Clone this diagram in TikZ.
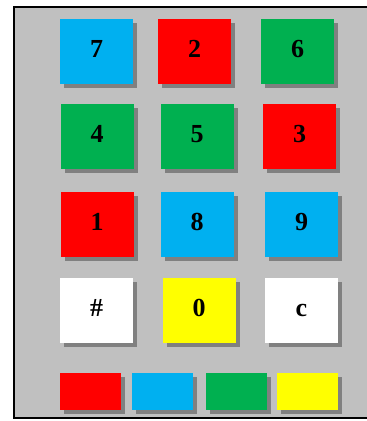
\documentclass[tikz,border=0pt]{standalone}
\usepackage{fontspec}
\setmainfont{Liberation Serif}
\usetikzlibrary{shadows}
\definecolor{panelgray}{HTML}{C0C0C0}
\definecolor{shadowgray}{HTML}{808080}
\definecolor{keyblue}{HTML}{00B0F0}
\definecolor{keyred}{HTML}{FF0000}
\definecolor{keygreen}{HTML}{00B050}
\definecolor{keyyellow}{HTML}{FFFF00}

\begin{document}
\begin{tikzpicture}[
  x=1pt,y=-1pt,
  keyshadow/.style={drop shadow={shadow xshift=4pt,shadow yshift=-4pt,fill=shadowgray,opacity=1}},
  padkey/.style={fill=#1,keyshadow,minimum width=73pt,minimum height=65pt,inner sep=0pt,
    text height=18pt,text depth=6pt,font=\fontsize{26}{26}\selectfont\bfseries},
  swatch/.style={fill=#1,keyshadow,minimum width=61pt,minimum height=37pt,inner sep=0pt}
]
  \useasboundingbox (0,0) rectangle (367,421);
  \draw[line width=2pt,fill=panelgray] (13.5,7) rectangle (375,418);

  % keys, row by row
  \node[padkey=keyblue] (key7) at (96.5,51.5) {7};
  \node[padkey=keyred] (key2) at (194.5,51.5) {2};
  \node[padkey=keygreen] (key6) at (297.5,51.5) {6};

  \node[padkey=keygreen] (key4) at (97,136) {4};
  \node[padkey=keygreen] (key5) at (197,136) {5};
  \node[padkey=keyred] (key3) at (299.5,136) {3};

  \node[padkey=keyred] (key1) at (97,224) {1};
  \node[padkey=keyblue] (key8) at (197,224) {8};
  \node[padkey=keyblue] (key9) at (301.5,224) {9};

  \node[padkey=white] (keyhash) at (96.5,310) {\#};
  \node[padkey=keyyellow] (key0) at (199,310) {0};
  \node[padkey=white] (keyc) at (301.5,310) {c};

  % colour swatches
  \node[swatch=keyred] (swred) at (90.5,391.5) {};
  \node[swatch=keyblue] (swblue) at (162.5,391.5) {};
  \node[swatch=keygreen] (swgreen) at (236.5,391.5) {};
  \node[swatch=keyyellow] (swyellow) at (307.5,391.5) {};
\end{tikzpicture}
\end{document}
